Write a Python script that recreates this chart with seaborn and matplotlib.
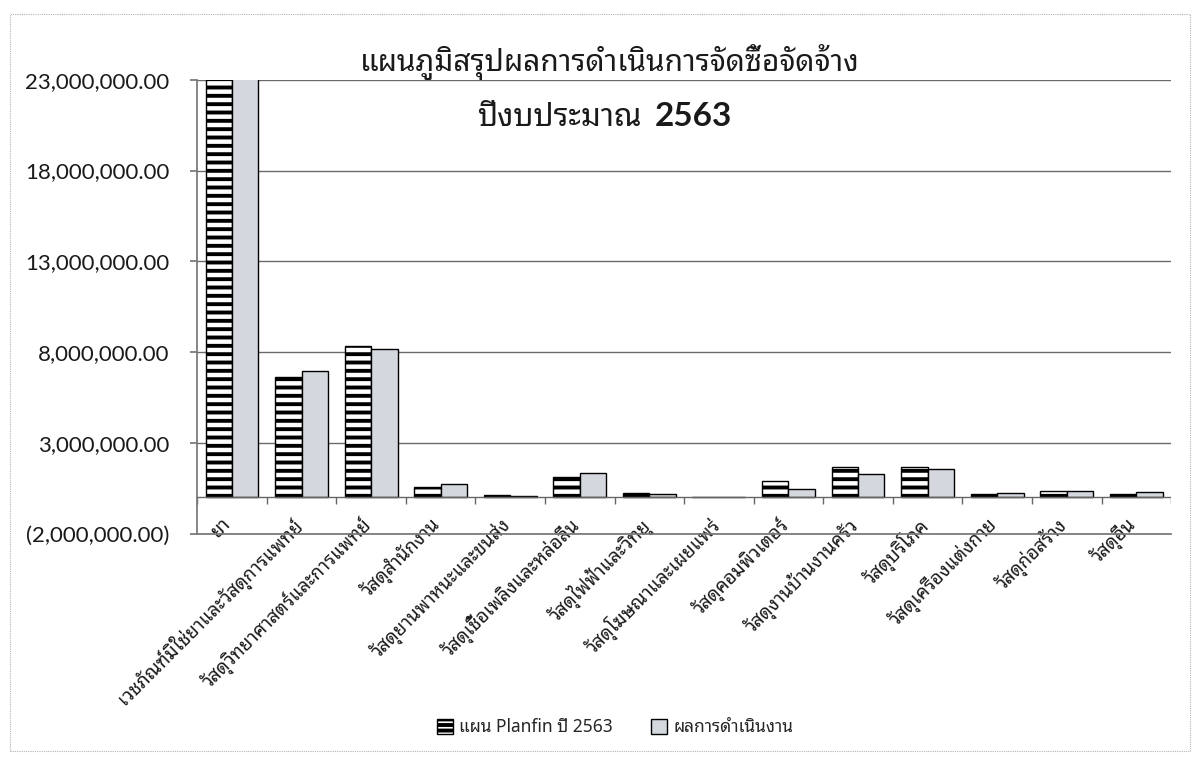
import numpy as np
import pandas as pd
import seaborn as sns
import matplotlib
matplotlib.use("Agg")
import matplotlib.pyplot as plt
from matplotlib.patches import Patch, Rectangle
from matplotlib.ticker import FuncFormatter

categories = [
    "ยา",
    "เวชภัณฑ์มิใช่ยาและวัสดุการแพทย์",
    "วัสดุวิทยาศาสตร์และการแพทย์",
    "วัสดุสำนักงาน",
    "วัสดุยานพาหนะและขนส่ง",
    "วัสดุเชื้อเพลิงและหล่อลื่น",
    "วัสดุไฟฟ้าและวิทยุ",
    "วัสดุโฆษณาและเผยแพร่",
    "วัสดุคอมพิวเตอร์",
    "วัสดุงานบ้านงานครัว",
    "วัสดุบริโภค",
    "วัสดุเครื่องแต่งกาย",
    "วัสดุก่อสร้าง",
    "วัสดุอื่น",
]
# values in baht (ยา is cut off at the top of the chart)
plan_values = [25_000_000, 6_650_000, 8_310_000, 590_000, 130_000, 1_090_000, 220_000,
               0, 870_000, 1_650_000, 1_670_000, 180_000, 360_000, 200_000]
result_values = [26_500_000, 6_980_000, 8_150_000, 740_000, 70_000, 1_310_000, 160_000,
                 0, 440_000, 1_270_000, 1_580_000, 240_000, 340_000, 270_000]
series_names = ["แผน Planfin ปี 2563", "ผลการดำเนินงาน"]
y_ticks = [-2_000_000, 3_000_000, 8_000_000, 13_000_000, 18_000_000, 23_000_000]

THAI_FONTS = ['Noto Sans Thai Looped', 'Noto Sans Thai', 'Noto Sans', 'DejaVu Sans']
NUM_FONTS = ['Lato', 'DejaVu Sans']


def money(val, _pos):
    txt = "{:,.2f}".format(abs(val))
    return "({})".format(txt) if val < 0 else txt


sns.set_theme(style="white")
plt.rcParams['font.family'] = THAI_FONTS
plt.rcParams['hatch.linewidth'] = 2.8
plt.rcParams['hatch.color'] = 'black'

dfrm = pd.DataFrame({
    'category': categories * 2,
    'value': plan_values + result_values,
    'series': [series_names[0]] * len(categories) + [series_names[1]] * len(categories),
})

fig = plt.figure(figsize=(11.95, 7.6), dpi=100)
ax = fig.add_axes([0.165, 0.298, 0.815, 0.597])
sns.barplot(data=dfrm, x='category', y='value', hue='series', ax=ax,
            palette=['white', '#d3d8df'], width=0.76, edgecolor='black',
            linewidth=1.0, legend=False)
for bar in ax.containers[0]:
    bar.set_hatch('--')
    bar.set_facecolor('white')

ax.set_ylim(-2_000_000, 23_000_000)
ax.set_xlim(-0.5, len(categories) - 0.5)
ax.set_yticks(y_ticks)
ax.yaxis.set_major_formatter(FuncFormatter(money))
ax.grid(axis='y', color='#6b6b6b', linewidth=1.0)
ax.set_axisbelow(True)
ax.axhline(0, color='#666666', linewidth=1.0, zorder=3)
ax.vlines(np.arange(-0.5, len(categories)), -350_000, 0, color='#666666', linewidth=1.0)
for side in ['top', 'right']:
    ax.spines[side].set_visible(False)
for side in ['left', 'bottom']:
    ax.spines[side].set_color('#777777')
ax.tick_params(axis='y', left=True, length=5, color='#777777', labelsize=16, pad=15)
for label in ax.get_yticklabels():
    label.set_family(NUM_FONTS)
    label.set_color('#1a1a1a')
ax.tick_params(axis='x', length=0, labelsize=13.5, pad=-14)
ax.set_xticks(np.arange(len(categories)) - 0.15)
ax.set_xticklabels(categories, rotation=45, ha='right', rotation_mode='anchor',
                   color='#1a1a1a')
ax.set_xlabel('')
ax.set_ylabel('')

fig.text(0.51, 0.918, "แผนภูมิสรุปผลการดำเนินการจัดซื้อจัดจ้าง", size=21.5,
         ha='center', va='center', color='#1a1a1a')
fig.text(0.537, 0.845, "ปีงบประมาณ", size=22.5, ha='right', va='center', color='#1a1a1a')
fig.text(0.548, 0.847, "2563", size=24, weight='bold', ha='left', va='center',
         color='#1a1a1a', family=NUM_FONTS)

handles = [Patch(facecolor='white', edgecolor='black', hatch='---', label=series_names[0]),
           Patch(facecolor='#d3d8df', edgecolor='black', label=series_names[1])]
fig.legend(handles=handles, loc='center', bbox_to_anchor=(0.515, 0.043), ncol=2,
           frameon=False, fontsize=12.5, handlelength=0.9, handleheight=0.9,
           handletextpad=0.4, columnspacing=2.2)

fig.patches.append(Rectangle((0.008, 0.012), 0.988, 0.97, transform=fig.transFigure,
                             fill=False, edgecolor='#b5b5b5', linewidth=0.8,
                             linestyle=(0, (1, 1))))
fig.savefig('out.png', dpi=100)
